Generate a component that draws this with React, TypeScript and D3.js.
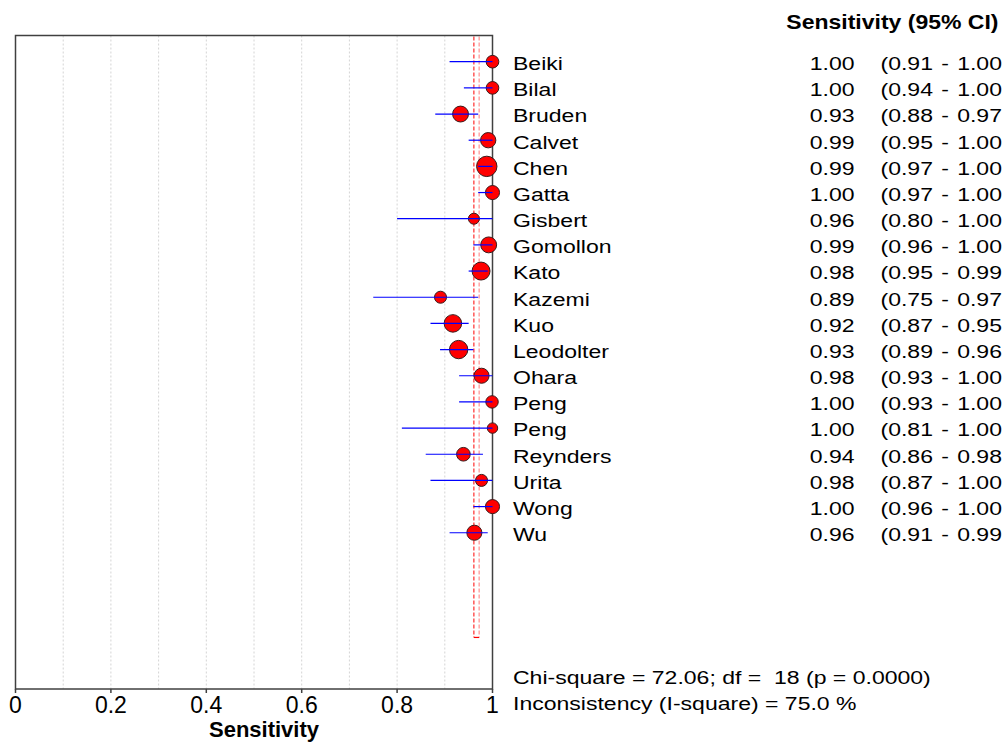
import React from "react";
import * as d3 from "d3";

const studies = ["Beiki","Bilal","Bruden","Calvet","Chen","Gatta","Gisbert","Gomollon","Kato","Kazemi","Kuo","Leodolter","Ohara","Peng","Peng","Reynders","Urita","Wong","Wu"];
const sensitivity = [1.0,1.0,0.933,0.991,0.988,1.0,0.961,0.992,0.976,0.891,0.917,0.929,0.977,0.999,1.0,0.939,0.977,1.0,0.962];
const ciLow = [0.91,0.94,0.88,0.95,0.97,0.97,0.80,0.96,0.95,0.75,0.87,0.89,0.93,0.93,0.81,0.86,0.87,0.96,0.91];
const ciHigh = [1.00,1.00,0.97,1.00,1.00,1.00,1.00,1.00,0.99,0.97,0.95,0.96,1.00,1.00,1.00,0.98,1.00,1.00,0.99];
const weights = [0.62,0.62,0.78,0.75,1.0,0.69,0.54,0.78,0.88,0.59,0.86,0.9,0.74,0.61,0.51,0.67,0.59,0.69,0.74];
const pooledLines = [0.961, 0.972];
const xTicks = [0, 0.2, 0.4, 0.6, 0.8, 1];
const xTickLabels = ["0", "0.2", "0.4", "0.6", "0.8", "1"];
const gridValues = [0.1,0.2,0.3,0.4,0.5,0.6,0.7,0.8,0.9];
const headerText = "Sensitivity (95% CI)";
const axisTitle = "Sensitivity";
const chiText = "Chi-square = 72.06; df =  18 (p = 0.0000)";
const incText = "Inconsistency (I-square) = 75.0 %";

const W = 1003, H = 744;
const FONT = "'Liberation Sans', Arial, sans-serif";
const SX = 1.245;
const FS = 18.5;

export default function App() {
  const x = d3.scaleLinear().domain([0, 1]).range([15.5, 492.5]);
  const y = d3.scaleLinear().domain([0, 1]).range([61.7, 87.87]);
  const r = d3.scaleLinear().domain([0, 1]).range([0, 10.2]);
  const top = 35.5, bottom = 689;
  const boxBottom = y(studies.length + 3);

  return (
    <svg width={W} height={H} style={{ position: "absolute", left: 0, top: 0, background: "#fff" }} fontFamily={FONT}>
      <rect x={0} y={0} width={W} height={H} fill="#fff" />
      {gridValues.map((g, i) => (
        <line key={"g" + i} x1={x(g)} x2={x(g)} y1={top} y2={bottom} stroke="#d4d4d4" strokeWidth={1} strokeDasharray="2,2" />
      ))}
      <line x1={x(pooledLines[0])} x2={x(pooledLines[0])} y1={top + 1} y2={boxBottom} stroke="#ff0000" strokeWidth={1} strokeDasharray="4,2" />
      <line x1={x(pooledLines[1])} x2={x(pooledLines[1])} y1={top + 1} y2={boxBottom} stroke="#ff9090" strokeWidth={1.2} strokeDasharray="4,2" />
      <line x1={x(pooledLines[0])} x2={x(pooledLines[1])} y1={boxBottom} y2={boxBottom} stroke="#ff0000" strokeWidth={1.2} />
      <rect x={x(0)} y={top} width={x(1) - x(0)} height={bottom - top} fill="none" stroke="#404040" strokeWidth={1.5} />
      {xTicks.map((t, i) => (
        <g key={"t" + i}>
          <line x1={x(t)} x2={x(t)} y1={bottom} y2={bottom + 4} stroke="#404040" strokeWidth={1.5} />
          <text x={x(t)} y={713} textAnchor="middle" fontSize={23} fill="#000">{xTickLabels[i]}</text>
        </g>
      ))}
      <text x={264} y={737} textAnchor="middle" fontSize={22} fontWeight="bold" fill="#000">{axisTitle}</text>
      {studies.map((s, i) => (
        <g key={"s" + i}>
          <circle cx={x(sensitivity[i])} cy={y(i)} r={r(weights[i])} fill="#ff0000" stroke="#3a1a1a" strokeWidth={1} />
          <line x1={x(ciLow[i])} x2={x(ciHigh[i])} y1={y(i)} y2={y(i)} stroke="#0000ff" strokeWidth={1.2} />
          <text transform={`translate(513,${y(i) + 8.3}) scale(${SX},1)`} fontSize={FS} fill="#000">{s}</text>
          <text transform={`translate(854.5,${y(i) + 8.3}) scale(${SX},1)`} fontSize={FS} textAnchor="end" fill="#000">{sensitivity[i].toFixed(2)}</text>
          <text transform={`translate(880.5,${y(i) + 8.3}) scale(${SX},1)`} fontSize={FS} wordSpacing={1.5} fill="#000">{`(${ciLow[i].toFixed(2)} - ${ciHigh[i].toFixed(2)}`}</text>
        </g>
      ))}
      <text transform={`translate(998.5,29) scale(1.15,1)`} fontSize={20} fontWeight="bold" textAnchor="end" fill="#000">{headerText}</text>
      <text transform={`translate(513,684) scale(${SX},1)`} fontSize={FS} fill="#000" style={{ whiteSpace: "pre" }}>{chiText}</text>
      <text transform={`translate(513,710) scale(${SX},1)`} fontSize={FS} fill="#000">{incText}</text>
    </svg>
  );
}
